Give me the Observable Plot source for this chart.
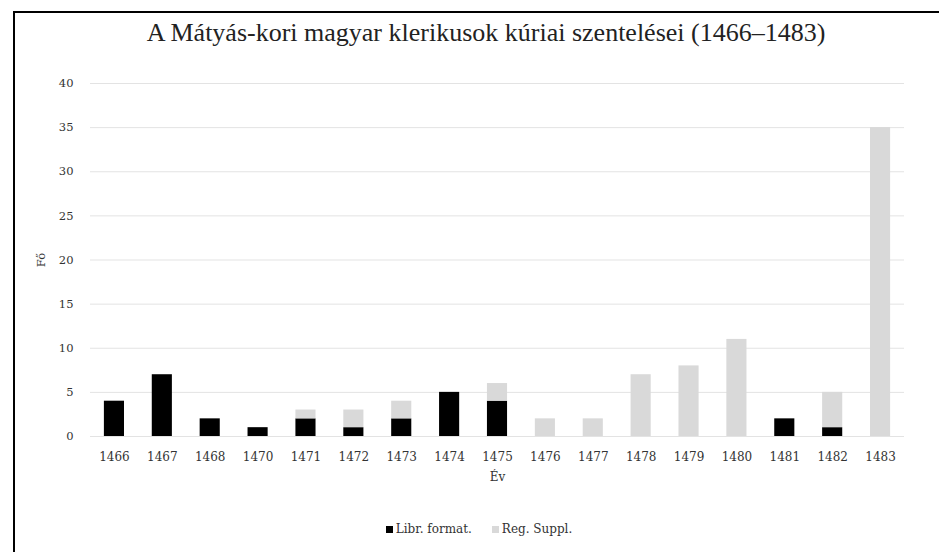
<!DOCTYPE html>
<html><head><meta charset="utf-8">
<script src="https://cdn.jsdelivr.net/npm/d3@7"></script>
<script src="https://cdn.jsdelivr.net/npm/@observablehq/plot@0.6"></script>
<style>
body{margin:0;background:#fff;width:939px;height:552px;overflow:hidden;position:relative;font-family:"Liberation Serif",serif;}
#frame{position:absolute;left:13px;top:11px;width:1000px;height:600px;border:2px solid #000;box-sizing:border-box;}
#title{position:absolute;left:0;width:972px;top:17px;text-align:center;font-size:26px;color:#222;line-height:32px;}
#chart{position:absolute;left:0;top:60px;}
#legend{position:absolute;left:0;width:958px;top:521px;display:flex;justify-content:center;font-family:"DejaVu Serif","Liberation Serif",serif;font-size:12px;color:#333;line-height:16px;}
#legend .item{display:flex;align-items:center;margin:0 10px;}
#legend .sw{width:7px;height:7px;margin-right:3px;}
</style></head><body>
<div id="frame"></div>
<div id="title">A Mátyás-kori magyar klerikusok kúriai szentelései (1466–1483)</div>
<div id="chart"></div>
<div id="legend"></div>
<script>
const years = ["1466","1467","1468","1470","1471","1472","1473","1474","1475","1476","1477","1478","1479","1480","1481","1482","1483"];
const librFormat = [4,7,2,1,2,1,2,5,4,0,0,0,0,0,2,1,0];
const regSuppl   = [0,0,0,0,1,2,2,0,2,2,2,7,8,11,0,4,35];
const seriesNames = ["Libr. format.","Reg. Suppl."];
const seriesColors = ["#000000","#d9d9d9"];
const yTicks = [0,5,10,15,20,25,30,35,40];

const data = [];
years.forEach((y,i)=>{
  data.push({year:y, series:seriesNames[0], value:librFormat[i]});
  data.push({year:y, series:seriesNames[1], value:regSuppl[i]});
});

const serif = '"DejaVu Serif","Liberation Serif",serif';
const chart = Plot.plot({
  width: 939,
  height: 440,
  marginLeft: 90,
  marginRight: 35,
  marginTop: 23,
  marginBottom: 64,
  style:{fontFamily:serif, fontSize:"11.5px", color:"#333", background:"transparent"},
  x:{domain:years, paddingInner:0.58, paddingOuter:0.29, round:false, label:null},
  y:{domain:[0,40], label:null},
  color:{domain:seriesNames, range:seriesColors},
  marks:[
    Plot.ruleY(yTicks,{stroke:"#e3e3e3", strokeWidth:1}),
    Plot.barY(data, Plot.stackY({x:"year", y:"value", fill:"series", order:seriesNames})),
    Plot.axisX({tickSize:0, tickPadding:16, fontSize:12, label:"Év", labelAnchor:"center", labelArrow:"none", labelOffset:44}),
    Plot.axisY({ticks:yTicks, tickSize:0, tickPadding:17, fontSize:11.5, label:"Fő", labelAnchor:"center", labelArrow:"none", labelOffset:54})
  ]
});
document.getElementById("chart").appendChild(chart);

const legend = document.getElementById("legend");
seriesNames.forEach((name,i)=>{
  const item = document.createElement("div");
  item.className = "item";
  const sw = document.createElement("span");
  sw.className = "sw";
  sw.style.background = seriesColors[i];
  const label = document.createElement("span");
  label.textContent = name;
  item.appendChild(sw);
  item.appendChild(label);
  legend.appendChild(item);
});
</script>
</body></html>
